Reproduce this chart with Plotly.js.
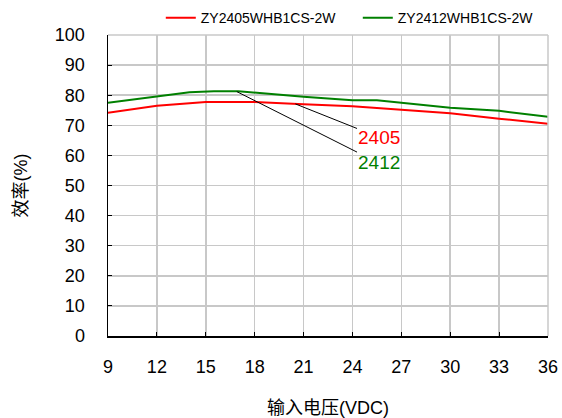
<!DOCTYPE html>
<html>
<head>
<meta charset="utf-8">
<script src="https://cdn.plot.ly/plotly-3.0.1.min.js"></script>
<style>html,body{margin:0;padding:0;background:#fff;}#chart{width:562px;height:418px;}</style>
</head>
<body>
<div id="chart"></div>
<script>
const seriesNames = ['ZY2405WHB1CS-2W', 'ZY2412WHB1CS-2W'];
const redX = [9, 12, 15, 18, 21, 24, 27, 30, 33, 36];
const redY = [74.2, 76.5, 77.7, 77.7, 77.0, 76.3, 75.2, 74.0, 72.2, 70.5];
const greenX = [9, 12, 14, 15.5, 17, 21, 24, 25.5, 28, 30, 33, 36];
const greenY = [77.5, 79.5, 81.0, 81.3, 81.3, 79.5, 78.3, 78.3, 77.0, 75.8, 74.8, 72.8];
const xTicks = [9, 12, 15, 18, 21, 24, 27, 30, 33, 36];
const yTicks = [0, 10, 20, 30, 40, 50, 60, 70, 80, 90, 100];
const labelTexts = ['2405', '2412'];
const labelPoints = [[20.5, 77.1], [16.9, 81.2]];
const labelPos = [[25.6, 66.1], [25.6, 57.5]];

const font = '"Liberation Sans", Arial, "Noto Sans CJK SC", sans-serif';
const traces = [
  {x: redX, y: redY, name: seriesNames[0], mode: 'lines', line: {color: '#ff0000', width: 2}},
  {x: greenX, y: greenY, name: seriesNames[1], mode: 'lines', line: {color: '#008000', width: 2}}
];
const colors = ['#ff0000', '#008000'];
const annotations = labelTexts.map((t, i) => ({
  x: labelPoints[i][0], y: labelPoints[i][1], xref: 'x', yref: 'y',
  ax: labelPos[i][0], ay: labelPos[i][1], axref: 'x', ayref: 'y',
  text: t, showarrow: true, arrowhead: 0, arrowwidth: 1, arrowcolor: '#000',
  font: {family: font, size: 19, color: colors[i]}, borderpad: 0
}));
const layout = {
  width: 562, height: 418,
  margin: {l: 108, r: 14, t: 35, b: 82, autoexpand: false},
  paper_bgcolor: '#fff', plot_bgcolor: '#fff',
  font: {family: font, size: 18, color: '#000'},
  showlegend: true,
  legend: {orientation: 'h', x: 0.12, xanchor: 'left', y: 1.056, yanchor: 'middle',
    entrywidth: 152, entrywidthmode: 'pixels',
    font: {family: font, size: 14, color: '#000'}, bgcolor: 'rgba(0,0,0,0)'},
  xaxis: {
    range: [9, 36], tickvals: xTicks, ticktext: xTicks.map(String),
    showgrid: true, gridcolor: '#c8c8c8', gridwidth: 1.5,
    showline: true, linecolor: '#000', linewidth: 1.5, mirror: false,
    ticks: 'inside', ticklen: 4, tickcolor: '#000', ticklabelstandoff: 14,
    zeroline: false, automargin: false,
    title: {text: '输入电压(VDC)', font: {family: font, size: 18}, standoff: 26}
  },
  yaxis: {
    range: [0, 100], tickvals: yTicks, ticktext: yTicks.map(String),
    showgrid: true, gridcolor: '#c8c8c8', gridwidth: 1.5,
    showline: true, linecolor: '#000', linewidth: 1.5,
    ticks: 'inside', ticklen: 4, tickcolor: '#000', ticklabelstandoff: 18,
    zeroline: false, automargin: false,
    title: {text: '效率(%)', font: {family: font, size: 18}, standoff: 22}
  },
  annotations: annotations,
  shapes: [
    {type: 'line', xref: 'paper', yref: 'paper', x0: 0, x1: 1, y0: 1, y1: 1, line: {color: '#c8c8c8', width: 1.5}},
    {type: 'line', xref: 'paper', yref: 'paper', x0: 1, x1: 1, y0: 0, y1: 1, line: {color: '#c8c8c8', width: 1.5}}
  ]
};
Plotly.newPlot('chart', traces, layout, {displayModeBar: false, staticPlot: true});
</script>
</body>
</html>
